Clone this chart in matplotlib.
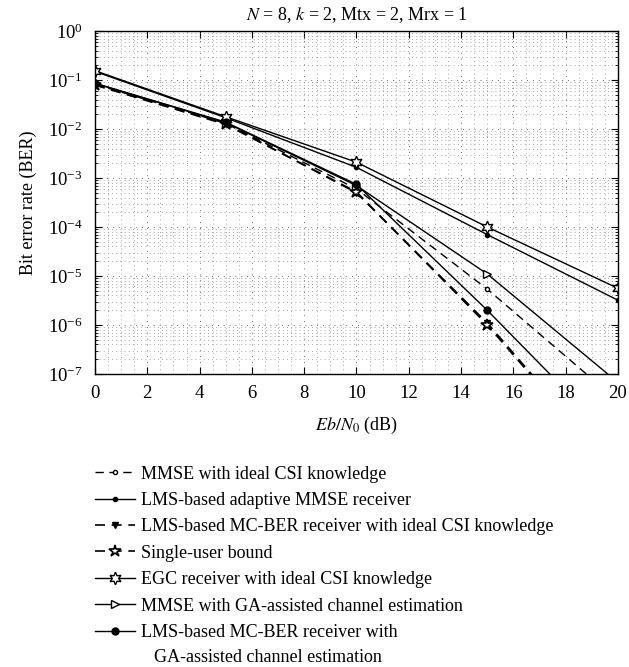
import numpy as np
import matplotlib
matplotlib.use("Agg")
import matplotlib.pyplot as plt
from matplotlib.ticker import MultipleLocator, LogLocator, NullFormatter

plt.rcParams['font.family'] = ['Liberation Serif', 'DejaVu Serif']
plt.rcParams['mathtext.fontset'] = 'stix'

# Eb/N0 points (dB)
snr = [0, 5, 10, 15, 20]

# BER values
mmse_ideal = [0.082, 0.0130, 6.0e-4, 5.4e-6, 2.8e-8]
lms_mmse = [0.150, 0.0170, 1.65e-3, 7.0e-5, 3.2e-6]
lms_mcber_ideal = [0.080, 0.0127, 5.0e-4, 1.1e-6, 9.0e-10]
single_user = [0.079, 0.0124, 5.2e-4, 1.0e-6, 8.7e-10]
egc = [0.155, 0.0178, 2.1e-3, 1.0e-4, 5.6e-6]
mmse_ga = [0.085, 0.0135, 7.0e-4, 1.1e-5, 6.7e-8]
lms_mcber_ga = [0.086, 0.0138, 7.4e-4, 2.0e-6, 3.8e-9]

labels = [
    'MMSE with ideal CSI knowledge',
    'LMS-based adaptive MMSE receiver',
    'LMS-based MC-BER receiver with ideal CSI knowledge',
    'Single-user bound',
    'EGC receiver with ideal CSI knowledge',
    'MMSE with GA-assisted channel estimation',
    'LMS-based MC-BER receiver with',
]
label_cont = 'GA-assisted channel estimation'

fig = plt.figure(figsize=(6.29, 6.67), dpi=100)
ax = fig.add_axes([0.151, 0.4393, 0.8315, 0.5142])

dash = (0, (6, 4))
ax.plot(snr, mmse_ideal, color='k', lw=1, ls=dash, marker='o', ms=3,
        mfc='white', mec='k', label=labels[0])
ax.plot(snr, lms_mmse, color='k', lw=1, ls='-', marker='o', ms=3,
        mfc='k', label=labels[1])
ax.plot(snr, lms_mcber_ideal, color='k', lw=1.2, ls=dash, marker='v', ms=4,
        mfc='k', label=labels[2])
ax.plot(snr, single_user, color='k', lw=1.2, ls=dash, marker='*', ms=9,
        mfc='white', mec='k', mew=1.2, label=labels[3])
ax.plot(snr, egc, color='k', lw=1, ls='-', marker=(6, 1, 0), ms=9,
        mfc='white', mec='k', label=labels[4])
ax.plot(snr, mmse_ga, color='k', lw=1, ls='-', marker='>', ms=6,
        mfc='white', mec='k', label=labels[5])
ax.plot(snr, lms_mcber_ga, color='k', lw=1, ls='-', marker='o', ms=5,
        mfc='k', label=labels[6])

ax.set_yscale('log')
ax.set_xlim(0, 20)
ax.set_ylim(1e-7, 1)
ax.xaxis.set_major_locator(MultipleLocator(2))
ax.xaxis.set_minor_locator(MultipleLocator(0.5))
ax.yaxis.set_major_locator(LogLocator(base=10, numticks=10))
ax.yaxis.set_minor_locator(LogLocator(base=10, subs=np.arange(2, 10), numticks=20))
ax.yaxis.set_minor_formatter(NullFormatter())

ax.grid(which='major', color='0.25', lw=0.6, ls=(0, (1, 6)))
ax.grid(which='minor', color='0.55', lw=0.6, ls=(0, (1, 4)))
ax.tick_params(which='both', direction='in', top=True, right=True, labelsize=13.5)
ax.tick_params(axis='x', which='major', length=5, pad=8)
ax.tick_params(axis='y', which='major', length=5, pad=9)
ax.tick_params(which='minor', length=2.5)
ax.tick_params(axis='x', which='minor', length=0)
for s in ax.spines.values():
    s.set_linewidth(1)

ax.set_title('$N$ = 8, $k$ = 2, Mtx = 2, Mrx = 1', fontsize=13, pad=8)
ax.set_xlabel('$Eb/N_0$ (dB)', fontsize=13, labelpad=9)
ax.set_ylabel('Bit error rate (BER)', fontsize=13, labelpad=8)

leg = fig.legend(loc='upper left', bbox_to_anchor=(0.151, 0.302), frameon=False,
                 fontsize=13, handlelength=2.2, handletextpad=0.35,
                 labelspacing=0.52, borderpad=0, borderaxespad=0)

# second line of the last legend entry, set under its first line
fig.canvas.draw()
last = leg.get_texts()[-1].get_window_extent()
fig.text((last.x0 + 13) / fig.bbox.width, (last.y0 - 25) / fig.bbox.height,
         label_cont, fontsize=13, ha='left', va='bottom')

fig.savefig('out.png', dpi=100)
